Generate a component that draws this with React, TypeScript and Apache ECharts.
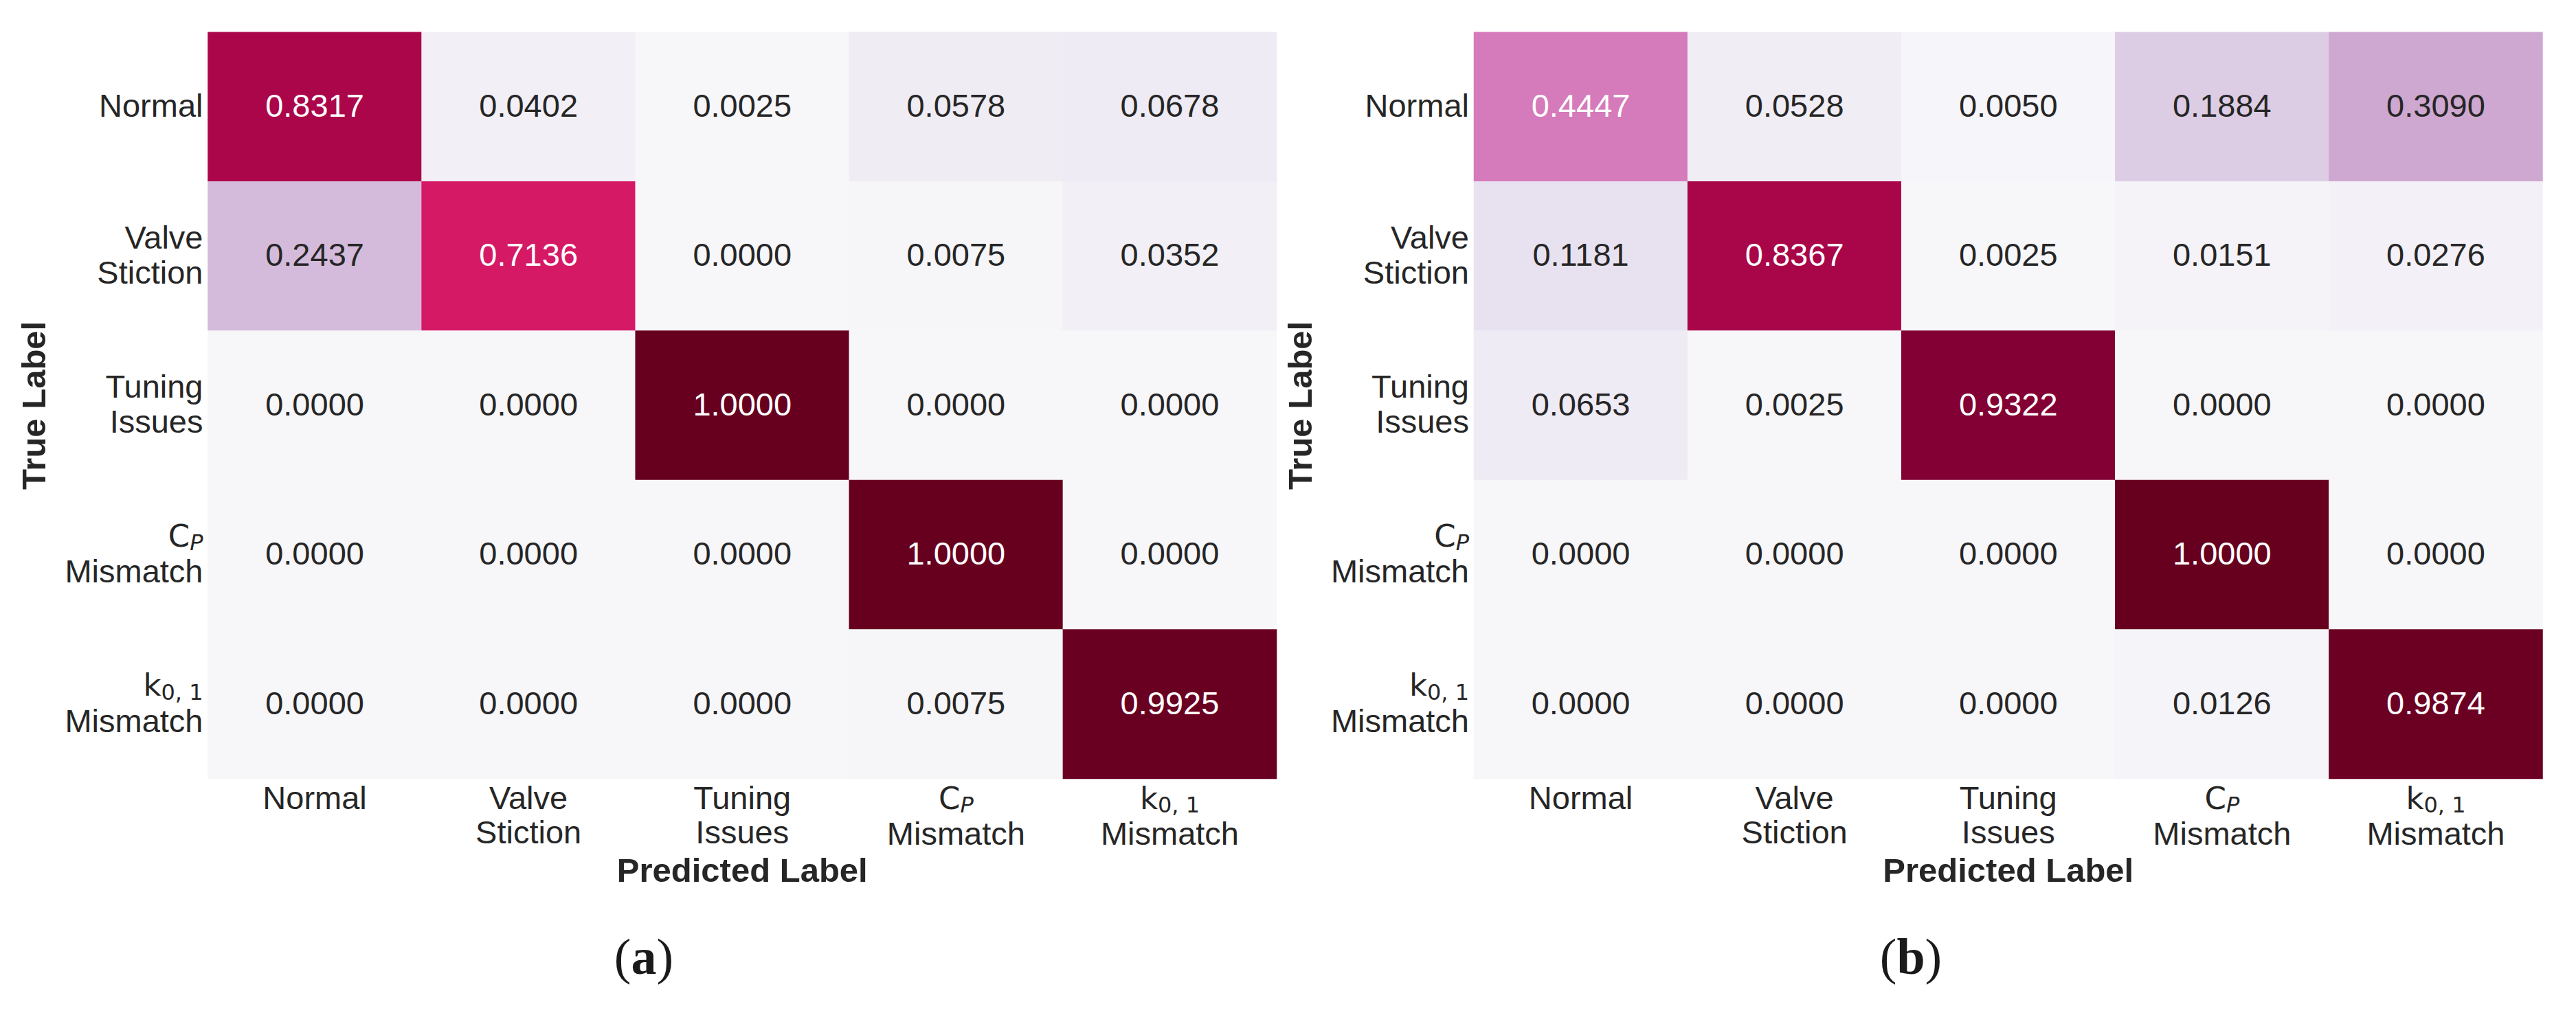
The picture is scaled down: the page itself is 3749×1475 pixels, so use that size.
import React, { useEffect, useRef } from "react";
import * as echarts from "echarts";

const classLabels = ["Normal", "Valve Stiction", "Tuning Issues", "CP Mismatch", "k01 Mismatch"];

// rows = true label, columns = predicted label
const matrixA = [
  [0.8317, 0.0402, 0.0025, 0.0578, 0.0678],
  [0.2437, 0.7136, 0.0, 0.0075, 0.0352],
  [0.0, 0.0, 1.0, 0.0, 0.0],
  [0.0, 0.0, 0.0, 1.0, 0.0],
  [0.0, 0.0, 0.0, 0.0075, 0.9925],
];

const matrixB = [
  [0.4447, 0.0528, 0.005, 0.1884, 0.309],
  [0.1181, 0.8367, 0.0025, 0.0151, 0.0276],
  [0.0653, 0.0025, 0.9322, 0.0, 0.0],
  [0.0, 0.0, 0.0, 1.0, 0.0],
  [0.0, 0.0, 0.0, 0.0126, 0.9874],
];

const captions = ["a", "b"];

const PuRd = ["#f7f6f9", "#e7e1ef", "#d4b9da", "#c994c7", "#df65b0", "#e7298a", "#ce1256", "#980043", "#67001f"];

const TEXT = "#262626";
const SANS = "Liberation Sans, Arial, Helvetica, sans-serif";
const MATH = "DejaVu Sans, sans-serif";

function labelText(name: string): string {
  switch (name) {
    case "Valve Stiction":
      return "Valve\nStiction";
    case "Tuning Issues":
      return "Tuning\nIssues";
    case "CP Mismatch":
      return "{m|C}{si|P}\nMismatch";
    case "k01 Mismatch":
      return "{m|k}{s|0, 1}\nMismatch";
    default:
      return name;
  }
}

const rich = {
  m: { fontFamily: MATH, fontSize: 45, lineHeight: 52, color: TEXT },
  s: { fontFamily: MATH, fontSize: 32, lineHeight: 30, verticalAlign: "bottom", color: TEXT },
  si: { fontFamily: MATH, fontSize: 32, fontStyle: "italic", lineHeight: 30, verticalAlign: "bottom", color: TEXT },
};

function buildData(m: number[][]) {
  const out: any[] = [];
  m.forEach((row, r) =>
    row.forEach((v, c) => {
      out.push({ value: [c, r, v], label: { color: v > 0.4 ? "#ffffff" : TEXT } });
    })
  );
  return out;
}

const gridTop = 46.7;
const gridH = 1087.3;
const gridW = 1555.5;
const gridLefts = [302.5, 2145];
const captionX = [937, 2781];

export default function App() {
  const ref = useRef<HTMLDivElement>(null);
  useEffect(() => {
    if (!ref.current) return;
    const chart = echarts.init(ref.current, undefined, { renderer: "svg" });
    const mats = [matrixA, matrixB];
    const option: any = {
      animation: false,
      backgroundColor: "#ffffff",
      grid: gridLefts.map((l) => ({ left: l, top: gridTop, width: gridW, height: gridH })),
      xAxis: [0, 1].map((i) => ({
        type: "category",
        gridIndex: i,
        data: classLabels,
        position: "bottom",
        axisLine: { show: false },
        axisTick: { show: false },
        splitLine: { show: false },
        axisLabel: {
          interval: 0,
          formatter: labelText,
          fontSize: 47,
          fontFamily: SANS,
          color: TEXT,
          lineHeight: 50,
          margin: 2,
          verticalAlign: "top",
          rich,
        },
        name: "Predicted Label",
        nameLocation: "middle",
        nameGap: 108,
        nameTextStyle: { fontWeight: "bold", fontSize: 49, fontFamily: SANS, color: TEXT, verticalAlign: "top" },
      })),
      yAxis: [0, 1].map((i) => ({
        type: "category",
        gridIndex: i,
        data: classLabels,
        inverse: true,
        axisLine: { show: false },
        axisTick: { show: false },
        splitLine: { show: false },
        axisLabel: {
          interval: 0,
          formatter: labelText,
          fontSize: 47,
          fontFamily: SANS,
          color: TEXT,
          lineHeight: 51,
          margin: 7,
          align: "right",
          padding: [0, 0, 4, 0],
          rich,
        },
        name: "True Label",
        nameLocation: "middle",
        nameGap: 229,
        nameRotate: 90,
        nameTextStyle: { fontWeight: "bold", fontSize: 49, fontFamily: SANS, color: TEXT },
      })),
      visualMap: {
        type: "continuous",
        min: 0,
        max: 1,
        show: false,
        dimension: 2,
        seriesIndex: [0, 1],
        inRange: { color: PuRd },
      },
      series: [0, 1].map((i) => ({
        type: "heatmap",
        xAxisIndex: i,
        yAxisIndex: i,
        data: buildData(mats[i]),
        itemStyle: { borderWidth: 0 },
        emphasis: { disabled: true },
        label: {
          show: true,
          fontSize: 47,
          fontFamily: SANS,
          offset: [0, -2],
          formatter: (p: any) => Number(p.value[2]).toFixed(4),
        },
      })),
      graphic: captions.map((c, i) => ({
        type: "text",
        x: captionX[i],
        y: 1393,
        style: {
          text: "{p|(}{b|" + c + "}{p|)}",
          align: "center",
          verticalAlign: "middle",
          rich: {
            p: { fontFamily: "Liberation Serif, serif", fontSize: 74, fill: "#1a1a1a" },
            b: { fontFamily: "Liberation Serif, serif", fontSize: 74, fontWeight: "bold", fill: "#1a1a1a" },
          },
        },
      })),
    };
    chart.setOption(option);
    return () => chart.dispose();
  }, []);
  return (
    <div
      ref={ref}
      style={{ position: "fixed", left: 0, top: 0, width: 3749, height: 1475, background: "#fff" }}
    />
  );
}
